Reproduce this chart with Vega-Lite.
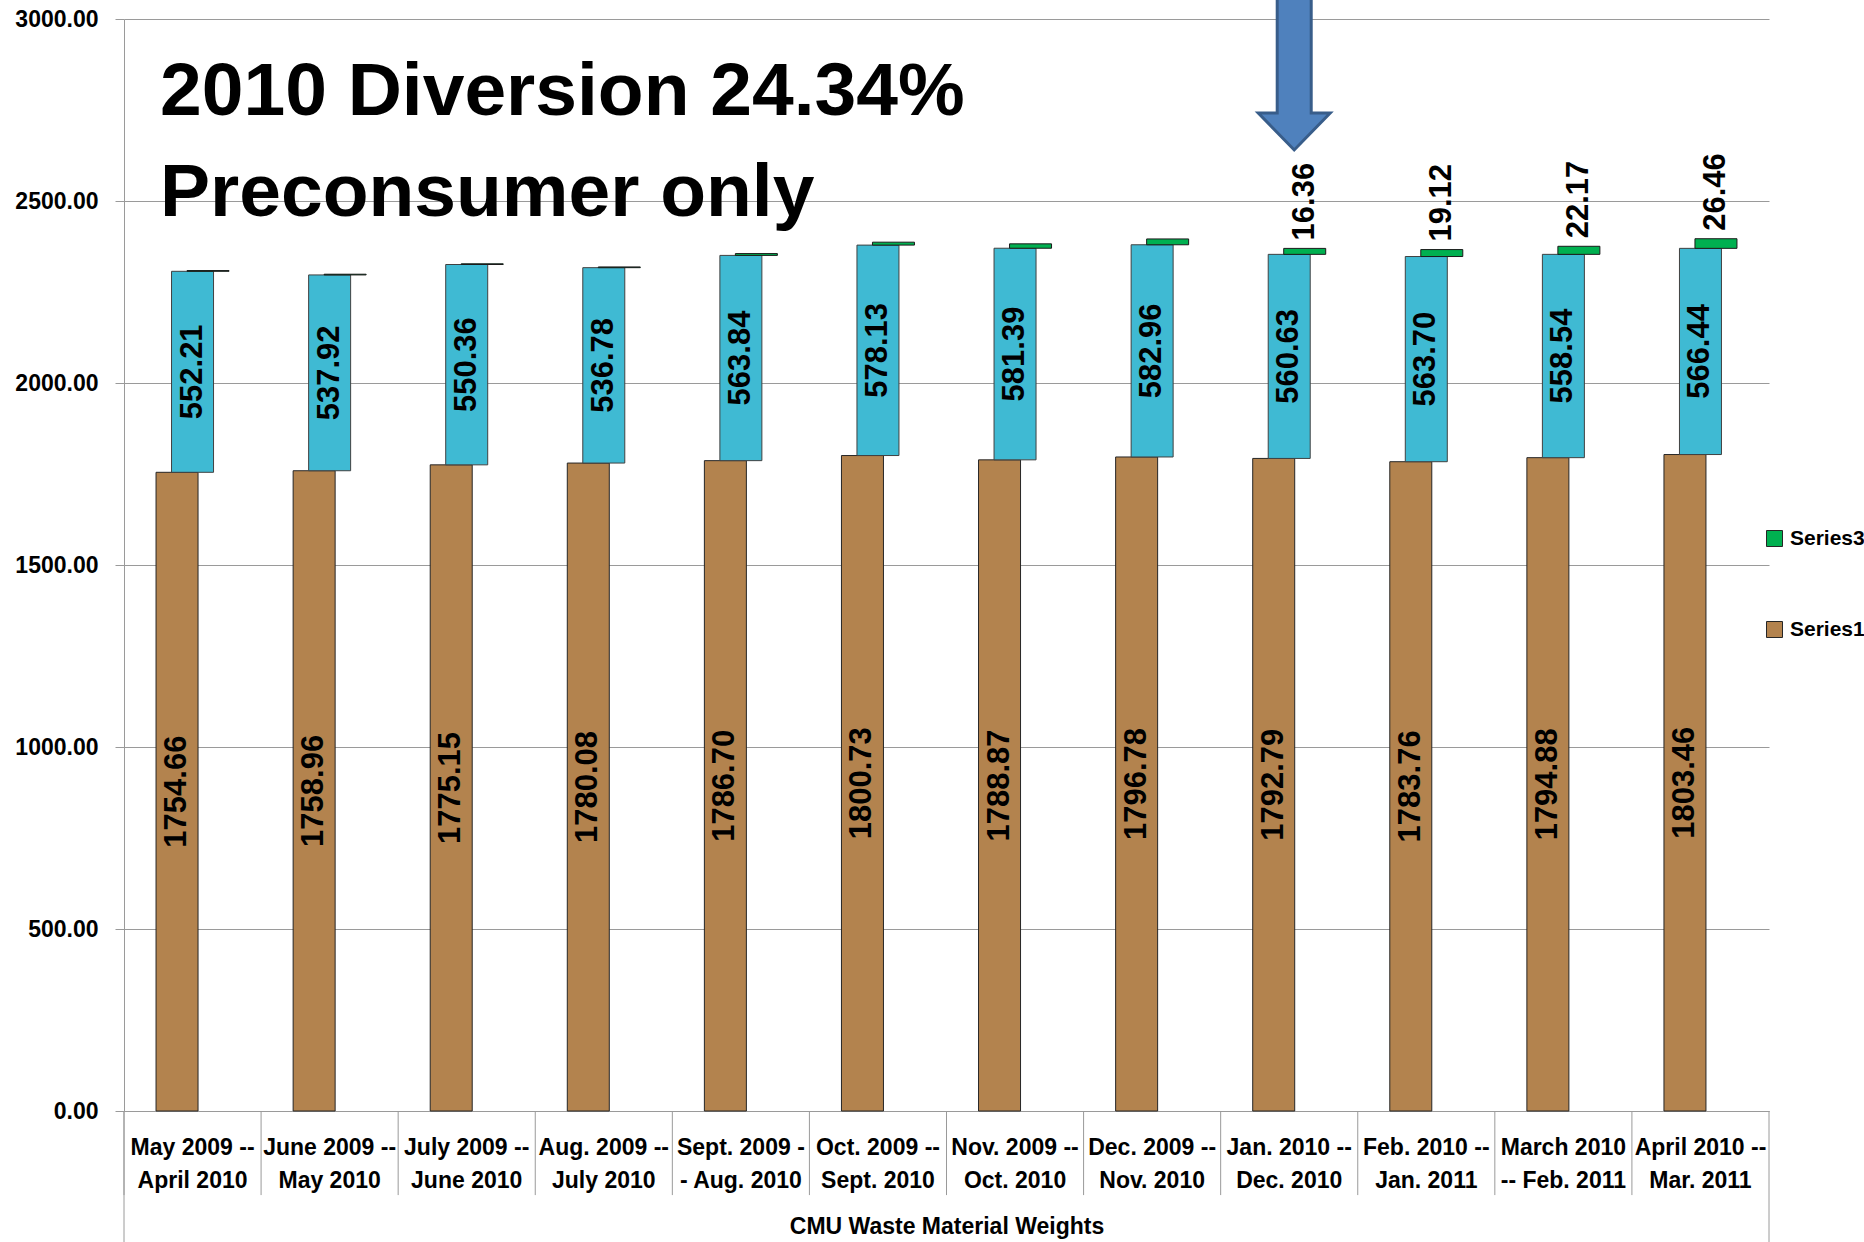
{
  "$schema": "https://vega.github.io/schema/vega-lite/v6.json",
  "width": 1645,
  "height": 1092,
  "autosize": {"type": "none"},
  "padding": {"left": 124, "top": 19, "right": 95, "bottom": 131},
  "background": "white",
  "config": {"view": {"stroke": null}, "font": "Liberation Sans"},
  "datasets": {
    "w": [
      {"period": "May 2009 -- April 2010", "series": "Series1", "value": 1754.66},
      {"period": "May 2009 -- April 2010", "series": "Series2", "value": 552.21},
      {"period": "May 2009 -- April 2010", "series": "Series3", "value": 2},
      {"period": "June 2009 -- May 2010", "series": "Series1", "value": 1758.96},
      {"period": "June 2009 -- May 2010", "series": "Series2", "value": 537.92},
      {"period": "June 2009 -- May 2010", "series": "Series3", "value": 2},
      {"period": "July 2009 -- June 2010", "series": "Series1", "value": 1775.15},
      {"period": "July 2009 -- June 2010", "series": "Series2", "value": 550.36},
      {"period": "July 2009 -- June 2010", "series": "Series3", "value": 2},
      {"period": "Aug. 2009 -- July 2010", "series": "Series1", "value": 1780.08},
      {"period": "Aug. 2009 -- July 2010", "series": "Series2", "value": 536.78},
      {"period": "Aug. 2009 -- July 2010", "series": "Series3", "value": 2},
      {"period": "Sept. 2009 -- Aug. 2010", "series": "Series1", "value": 1786.70},
      {"period": "Sept. 2009 -- Aug. 2010", "series": "Series2", "value": 563.84},
      {"period": "Sept. 2009 -- Aug. 2010", "series": "Series3", "value": 5},
      {"period": "Oct. 2009 -- Sept. 2010", "series": "Series1", "value": 1800.73},
      {"period": "Oct. 2009 -- Sept. 2010", "series": "Series2", "value": 578.13},
      {"period": "Oct. 2009 -- Sept. 2010", "series": "Series3", "value": 8},
      {"period": "Nov. 2009 -- Oct. 2010", "series": "Series1", "value": 1788.87},
      {"period": "Nov. 2009 -- Oct. 2010", "series": "Series2", "value": 581.39},
      {"period": "Nov. 2009 -- Oct. 2010", "series": "Series3", "value": 12},
      {"period": "Dec. 2009 -- Nov. 2010", "series": "Series1", "value": 1796.78},
      {"period": "Dec. 2009 -- Nov. 2010", "series": "Series2", "value": 582.96},
      {"period": "Dec. 2009 -- Nov. 2010", "series": "Series3", "value": 16},
      {"period": "Jan. 2010 -- Dec. 2010", "series": "Series1", "value": 1792.79},
      {"period": "Jan. 2010 -- Dec. 2010", "series": "Series2", "value": 560.63},
      {"period": "Jan. 2010 -- Dec. 2010", "series": "Series3", "value": 16.36},
      {"period": "Feb. 2010 -- Jan. 2011", "series": "Series1", "value": 1783.76},
      {"period": "Feb. 2010 -- Jan. 2011", "series": "Series2", "value": 563.70},
      {"period": "Feb. 2010 -- Jan. 2011", "series": "Series3", "value": 19.12},
      {"period": "March 2010 -- Feb. 2011", "series": "Series1", "value": 1794.88},
      {"period": "March 2010 -- Feb. 2011", "series": "Series2", "value": 558.54},
      {"period": "March 2010 -- Feb. 2011", "series": "Series3", "value": 22.17},
      {"period": "April 2010 -- Mar. 2011", "series": "Series1", "value": 1803.46},
      {"period": "April 2010 -- Mar. 2011", "series": "Series2", "value": 566.44},
      {"period": "April 2010 -- Mar. 2011", "series": "Series3", "value": 26.46}
    ]
  },
  "data": {"name": "w"},
  "transform": [
    {"stack": "value", "groupby": ["period"], "sort": [{"field": "series", "order": "ascending"}], "as": ["v0", "v1"]}
  ],
  "encoding": {
    "x": {
      "field": "period",
      "type": "nominal",
      "scale": {
        "type": "band",
        "domain": ["May 2009 -- April 2010", "June 2009 -- May 2010", "July 2009 -- June 2010", "Aug. 2009 -- July 2010", "Sept. 2009 -- Aug. 2010", "Oct. 2009 -- Sept. 2010", "Nov. 2009 -- Oct. 2010", "Dec. 2009 -- Nov. 2010", "Jan. 2010 -- Dec. 2010", "Feb. 2010 -- Jan. 2011", "March 2010 -- Feb. 2011", "April 2010 -- Mar. 2011"],
        "paddingInner": 0,
        "paddingOuter": 0
      },
      "axis": {
        "title": "CMU Waste Material Weights",
        "titleFontSize": 23,
        "titleFontWeight": "bold",
        "titleColor": "black",
        "titlePadding": 23,
        "labelAngle": 0,
        "labelFontSize": 23,
        "labelFontWeight": "bold",
        "labelColor": "black",
        "labelLineHeight": 33,
        "labelBaseline": "top",
        "labelPadding": 25,
        "labelOverlap": false,
        "labelLimit": 300,
        "labelExpr": "datum.value == 'Sept. 2009 -- Aug. 2010' ? ['Sept. 2009 -', '- Aug. 2010'] : datum.value == 'March 2010 -- Feb. 2011' ? ['March 2010', '-- Feb. 2011'] : [slice(datum.value, 0, indexof(datum.value, ' -- ') + 3), slice(datum.value, indexof(datum.value, ' -- ') + 4)]",
        "ticks": false,
        "domainColor": "#9A9A9A",
        "grid": false
      }
    },
    "y": {
      "field": "v1",
      "type": "quantitative",
      "scale": {"domain": [0, 3000], "nice": false},
      "axis": {
        "title": null,
        "values": [0, 500, 1000, 1500, 2000, 2500, 3000],
        "format": ".2f",
        "labelFontSize": 23,
        "labelFontWeight": "bold",
        "labelColor": "black",
        "labelPadding": 17,
        "tickSize": 9,
        "tickColor": "#9A9A9A",
        "domainColor": "#9A9A9A",
        "grid": true,
        "gridColor": "#9A9A9A"
      }
    }
  },
  "layer": [
    {
      "transform": [{"filter": "datum.series == 'Series1'"}],
      "mark": {"type": "bar", "width": 42, "xOffset": -15.5, "stroke": "#262626", "strokeWidth": 1},
      "encoding": {
        "y2": {"field": "v0"},
        "color": {
          "field": "series",
          "type": "nominal",
          "scale": {"domain": ["Series1", "Series2", "Series3"], "range": ["#B3834E", "#3FBAD3", "#00B050"]},
          "legend": {
            "values": ["Series3", "Series1"],
            "title": null,
            "orient": "none",
            "legendX": 1640,
            "legendY": 509,
            "padding": 0,
            "symbolType": "square",
            "symbolSize": 256,
            "symbolStrokeColor": "#262626",
            "symbolStrokeWidth": 1,
            "labelFontSize": 21,
            "labelFontWeight": "bold",
            "labelColor": "black",
            "labelOffset": 5,
            "rowPadding": 69,
            "labelLimit": 200
          }
        }
      }
    },
    {
      "transform": [{"filter": "datum.series == 'Series2'"}],
      "mark": {"type": "bar", "width": 42, "xOffset": 0, "stroke": "#404040", "strokeWidth": 1},
      "encoding": {
        "y2": {"field": "v0"},
        "color": {
          "field": "series",
          "type": "nominal",
          "scale": {"domain": ["Series1", "Series2", "Series3"], "range": ["#B3834E", "#3FBAD3", "#00B050"]},
          "legend": {
            "values": ["Series3", "Series1"],
            "title": null,
            "orient": "none",
            "legendX": 1640,
            "legendY": 509,
            "padding": 0,
            "symbolType": "square",
            "symbolSize": 256,
            "symbolStrokeColor": "#262626",
            "symbolStrokeWidth": 1,
            "labelFontSize": 21,
            "labelFontWeight": "bold",
            "labelColor": "black",
            "labelOffset": 5,
            "rowPadding": 69,
            "labelLimit": 200
          }
        }
      }
    },
    {
      "transform": [{"filter": "datum.series == 'Series3'"}],
      "mark": {"type": "bar", "width": 42, "xOffset": 15.5, "stroke": "#1A1A1A", "strokeWidth": 1},
      "encoding": {
        "y2": {"field": "v0"},
        "color": {
          "field": "series",
          "type": "nominal",
          "scale": {"domain": ["Series1", "Series2", "Series3"], "range": ["#B3834E", "#3FBAD3", "#00B050"]},
          "legend": {
            "values": ["Series3", "Series1"],
            "title": null,
            "orient": "none",
            "legendX": 1640,
            "legendY": 509,
            "padding": 0,
            "symbolType": "square",
            "symbolSize": 256,
            "symbolStrokeColor": "#262626",
            "symbolStrokeWidth": 1,
            "labelFontSize": 21,
            "labelFontWeight": "bold",
            "labelColor": "black",
            "labelOffset": 5,
            "rowPadding": 69,
            "labelLimit": 200
          }
        }
      }
    },
    {
      "transform": [
        {"filter": "datum.series != 'Series3'"},
        {"fold": ["v0", "v1"], "as": ["edge", "pos"]},
        {"aggregate": [{"op": "mean", "field": "pos", "as": "mid"}, {"op": "max", "field": "value", "as": "val"}], "groupby": ["period", "series"]},
        {"filter": "datum.series == 'Series1'"}
      ],
      "mark": {"type": "text", "angle": 270, "fontSize": 31, "fontWeight": "bold", "xOffset": -15.5, "align": "center", "baseline": "middle", "color": "black"},
      "encoding": {
        "y": {"field": "mid", "type": "quantitative"},
        "text": {"field": "val", "type": "quantitative", "format": ".2f"}
      }
    },
    {
      "transform": [
        {"filter": "datum.series != 'Series3'"},
        {"fold": ["v0", "v1"], "as": ["edge", "pos"]},
        {"aggregate": [{"op": "mean", "field": "pos", "as": "mid"}, {"op": "max", "field": "value", "as": "val"}], "groupby": ["period", "series"]},
        {"filter": "datum.series == 'Series2'"}
      ],
      "mark": {"type": "text", "angle": 270, "fontSize": 31, "fontWeight": "bold", "xOffset": 0, "align": "center", "baseline": "middle", "color": "black"},
      "encoding": {
        "y": {"field": "mid", "type": "quantitative"},
        "text": {"field": "val", "type": "quantitative", "format": ".2f"}
      }
    },
    {
      "transform": [
        {"filter": "datum.series == 'Series3'"},
        {"filter": {"field": "period", "oneOf": ["Jan. 2010 -- Dec. 2010", "Feb. 2010 -- Jan. 2011", "March 2010 -- Feb. 2011", "April 2010 -- Mar. 2011"]}}
      ],
      "mark": {"type": "text", "angle": 270, "fontSize": 31, "fontWeight": "bold", "xOffset": 15.5, "dx": 8, "align": "left", "baseline": "middle", "color": "black"},
      "encoding": {
        "text": {"field": "value", "type": "quantitative", "format": ".2f"}
      }
    },
    {
      "transform": [{"filter": "datum.series == 'Series1'"}],
      "mark": {"type": "rule", "color": "#9A9A9A", "strokeWidth": 1},
      "encoding": {
        "x": {"field": "period", "type": "nominal", "bandPosition": 0},
        "y": {"datum": 0},
        "y2": {"datum": -231}
      }
    },
    {
      "transform": [
        {"filter": "datum.series == 'Series1'"},
        {"filter": {"field": "period", "oneOf": ["May 2009 -- April 2010"]}}
      ],
      "mark": {"type": "rule", "color": "#9A9A9A", "strokeWidth": 1},
      "encoding": {
        "x": {"field": "period", "type": "nominal", "bandPosition": 0},
        "y": {"datum": 0},
        "y2": {"datum": -360}
      }
    },
    {
      "transform": [
        {"filter": "datum.series == 'Series1'"},
        {"filter": {"field": "period", "oneOf": ["April 2010 -- Mar. 2011"]}}
      ],
      "mark": {"type": "rule", "color": "#9A9A9A", "strokeWidth": 1},
      "encoding": {
        "x": {"field": "period", "type": "nominal", "bandPosition": 1},
        "y": {"datum": 0},
        "y2": {"datum": -360}
      }
    },
    {
      "transform": [
        {"filter": "datum.series == 'Series1'"},
        {"filter": {"field": "period", "oneOf": ["May 2009 -- April 2010"]}}
      ],
      "mark": {"type": "text", "align": "left", "baseline": "alphabetic", "fontSize": 75, "fontWeight": "bold", "lineHeight": 101, "dx": 36, "color": "black"},
      "encoding": {
        "x": {"field": "period", "type": "nominal", "bandPosition": 0},
        "y": {"datum": 2736},
        "text": {"value": ["2010 Diversion 24.34%", "Preconsumer only"]}
      }
    },
    {
      "transform": [
        {"filter": "datum.series == 'Series3'"},
        {"filter": {"field": "period", "oneOf": ["Jan. 2010 -- Dec. 2010"]}}
      ],
      "mark": {"type": "point", "shape": "M -0.17 -1 L 0.17 -1 L 0.17 0.63 L 0.36 0.63 L 0 1 L -0.36 0.63 L -0.17 0.63 Z", "size": 40000, "filled": true, "fill": "#4F81BD", "stroke": "#385D8A", "strokeWidth": 3, "opacity": 1, "xOffset": 5},
      "encoding": {
        "y": {"datum": 2915}
      }
    }
  ]
}
